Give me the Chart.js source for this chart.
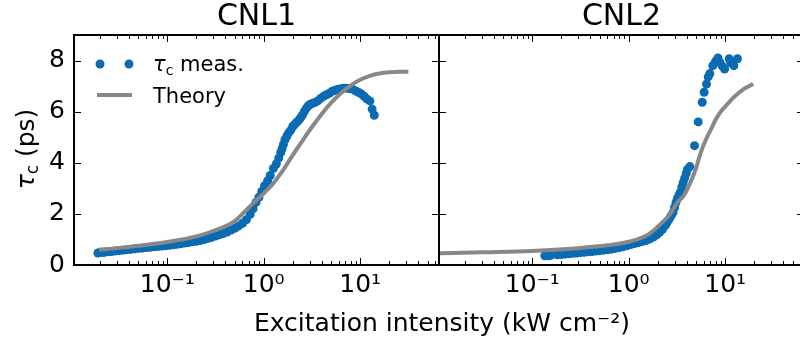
<!DOCTYPE html>
<html><head><meta charset="utf-8">
<script src="https://cdn.jsdelivr.net/npm/chart.js@4.4.0/dist/chart.umd.min.js"></script>
<style>
html,body{margin:0;padding:0;background:#fff;overflow:hidden;width:800px;height:343px;position:relative;}
canvas{position:absolute;top:0;}
#c1{left:0;}
#c2{left:400px;}
</style></head><body>
<canvas id="c1" width="800" height="343"></canvas>
<canvas id="c2" width="420" height="343"></canvas>
<script>
// ---------- data ----------
const panelTitles = ['CNL1', 'CNL2'];
const xMajorTicks = [0.1, 1, 10];
const xTickLabels = ['10⁻¹', '10⁰', '10¹'];
const yTicks = [0, 2, 4, 6, 8];
const xLabel = 'Excitation intensity (kW cm⁻²)';

// CNL1 measured tau_c (ps) vs intensity (kW/cm2)
const cnl1MeasX = [0.0191,0.0204,0.0219,0.0240,0.0263,0.0288,0.0316,0.0347,0.0380,0.0417,0.0457,0.0501,0.0550,0.0603,0.0661,0.0724,0.0794,0.0871,0.0955,0.105,0.115,0.126,0.138,0.151,0.166,0.182,0.200,0.219,0.240,0.263,0.288,0.316,0.347,0.380,0.417,0.457,0.501,0.550,0.603,0.661,0.724,0.776,0.832,0.891,0.955,1.02,1.10,1.17,1.26,1.35,1.43,1.50,1.55,1.60,1.66,1.74,1.82,1.91,2.00,2.09,2.19,2.29,2.40,2.51,2.63,2.75,2.88,3.02,3.16,3.39,3.63,3.89,4.17,4.47,4.79,5.13,5.50,5.89,6.31,6.76,7.24,7.76,8.32,8.91,9.55,10.2,11.0,11.7,12.6,13.3,14.0];
const cnl1MeasY = [0.47,0.50,0.49,0.52,0.53,0.55,0.56,0.58,0.60,0.61,0.63,0.65,0.66,0.68,0.69,0.71,0.72,0.74,0.75,0.77,0.79,0.81,0.83,0.86,0.88,0.91,0.93,0.96,1.00,1.04,1.08,1.13,1.18,1.23,1.29,1.37,1.44,1.53,1.63,1.77,1.98,2.20,2.45,2.65,2.88,3.10,3.30,3.50,3.78,3.95,4.18,4.40,4.55,4.72,4.90,5.05,5.18,5.28,5.42,5.50,5.58,5.65,5.75,5.85,6.00,6.12,6.22,6.28,6.32,6.36,6.42,6.52,6.60,6.66,6.72,6.80,6.84,6.88,6.90,6.92,6.92,6.90,6.88,6.82,6.76,6.70,6.60,6.50,6.42,6.10,5.86];
// CNL1 theory
const cnl1TheoX = [0.0197,0.03,0.05,0.1,0.2,0.3,0.5,0.631,0.794,1.0,1.26,1.58,2.0,2.51,3.16,3.98,5.01,6.31,7.94,10.0,12.6,15.8,20.0,25.1,31.6];
const cnl1TheoY = [0.60,0.66,0.75,0.90,1.12,1.33,1.72,2.08,2.45,2.80,3.20,3.70,4.30,4.85,5.40,5.90,6.35,6.72,7.02,7.25,7.40,7.49,7.54,7.56,7.56];

// CNL2 measured
const cnl2MeasX = [0.135,0.141,0.148,0.155,0.182,0.200,0.219,0.240,0.263,0.288,0.316,0.347,0.380,0.417,0.457,0.501,0.550,0.603,0.661,0.724,0.794,0.871,0.955,1.05,1.15,1.26,1.38,1.51,1.66,1.82,1.95,2.09,2.24,2.40,2.51,2.63,2.75,2.88,2.99,3.09,3.20,3.31,3.43,3.55,3.67,3.80,3.94,4.07,4.30,4.81,5.25,5.78,6.05,6.40,6.67,6.93,7.45,7.94,8.41,8.83,9.33,9.86,11.0,11.4,12.3,13.4];
const cnl2MeasY = [0.36,0.40,0.36,0.38,0.40,0.41,0.43,0.44,0.46,0.47,0.49,0.50,0.52,0.53,0.55,0.56,0.58,0.60,0.62,0.65,0.68,0.71,0.75,0.80,0.84,0.88,0.92,0.96,1.02,1.10,1.18,1.28,1.40,1.55,1.68,1.80,1.92,2.05,2.25,2.45,2.60,2.72,2.85,3.05,3.22,3.40,3.58,3.75,3.85,4.67,5.60,6.37,6.76,7.08,7.36,7.49,7.80,7.97,8.10,7.93,7.78,7.67,8.07,7.91,7.80,8.07];
// CNL2 theory
const cnl2TheoX = [0.0108,0.03,0.1,0.3,0.6,1.0,1.6,2.2,2.7,3.2,3.7,4.5,5.0,5.6,6.3,7.1,8.0,9.0,10.0,12.6,15.8,19.5];
const cnl2TheoY = [0.46,0.50,0.55,0.66,0.77,0.91,1.20,1.65,2.00,2.45,2.70,3.35,3.80,4.42,4.90,5.30,5.70,6.00,6.20,6.60,6.90,7.08];

// ---------- styling ----------
const BLUE = '#0a6bb3';
const GRAY = '#888888';
const FONT = 'DejaVu Sans';
const X_MIN = 0.0108, X_MAX = 65.6;
Chart.defaults.font.family = FONT;
Chart.defaults.color = '#000';

function pts(xs, ys){ return xs.map((x,i)=>({x:x, y:ys[i]})); }

// all tick positions on the log axis (majors + 2..9 minors per decade)
const allXTicks = [];
for (let e = -2; e <= 1; e++) {
  for (let m = 1; m <= 9; m++) {
    const v = m * Math.pow(10, e);
    if (v >= X_MIN && v <= X_MAX) allXTicks.push(+v.toPrecision(3));
  }
}
function isMajor(v){ return xMajorTicks.some(m => Math.abs(m - v) / m < 1e-6); }

const framePlugin = {
  id: 'frame',
  afterDraw(chart, args, o) {
    const {ctx, chartArea: a, scales: {x, y}} = chart;
    ctx.save();
    ctx.strokeStyle = '#000';
    ctx.lineWidth = 1;
    ctx.beginPath();
    allXTicks.forEach(v => {
      const px = Math.round(x.getPixelForValue(v)) + 0.5;
      const L = isMajor(v) ? 7 : 4;
      ctx.moveTo(px, a.bottom); ctx.lineTo(px, a.bottom - L);
      ctx.moveTo(px, a.top); ctx.lineTo(px, a.top + L);
    });
    yTicks.forEach(v => {
      const py = Math.round(y.getPixelForValue(v)) + 0.5;
      ctx.moveTo(a.left, py); ctx.lineTo(a.left + 7, py);
      ctx.moveTo(a.right, py); ctx.lineTo(a.right - 7, py);
    });
    ctx.stroke();
    ctx.lineWidth = 2;
    ctx.strokeRect(a.left, a.top, a.right - a.left, a.bottom - a.top);
    // panel title
    ctx.fillStyle = '#000';
    ctx.textAlign = 'center';
    ctx.textBaseline = 'alphabetic';
    ctx.font = '30px ' + FONT;
    ctx.fillText(o.title, (a.left + a.right) / 2, 25);
    if (o.first) {
      // x label
      ctx.font = '25px ' + FONT;
      ctx.fillText(xLabel, 442, 331);
      // y label (rotated) tau_c (ps)
      ctx.save();
      ctx.translate(25, 149);
      ctx.rotate(-Math.PI / 2);
      ctx.textAlign = 'left';
      ctx.textBaseline = 'alphabetic';
      const f1 = 'italic 25px ' + FONT, f2 = '17px ' + FONT, f3 = '25px ' + FONT;
      ctx.font = f1; const w1 = ctx.measureText('τ').width;
      ctx.font = f2; const w2 = ctx.measureText('c').width;
      ctx.font = f3; const w3 = ctx.measureText(' (ps)').width;
      let sx = -(w1 + w2 + w3) / 2;
      const by = 9;
      ctx.font = f1; ctx.fillText('τ', sx, by); sx += w1;
      ctx.font = f2; ctx.fillText('c', sx, by + 4); sx += w2;
      ctx.font = f3; ctx.fillText(' (ps)', sx, by);
      ctx.restore();
      // legend
      ctx.fillStyle = BLUE;
      [100, 129].forEach(cx => { ctx.beginPath(); ctx.arc(cx, 64, 4.5, 0, Math.PI * 2); ctx.fill(); });
      ctx.strokeStyle = GRAY; ctx.lineWidth = 4;
      ctx.beginPath(); ctx.moveTo(97, 95); ctx.lineTo(132, 95); ctx.stroke();
      ctx.fillStyle = '#000';
      ctx.textAlign = 'left'; ctx.textBaseline = 'alphabetic';
      let lx = 153; const ly = 71;
      ctx.font = 'italic 21px ' + FONT; ctx.fillText('τ', lx, ly); lx += ctx.measureText('τ').width;
      ctx.font = '14px ' + FONT; ctx.fillText('c', lx, ly + 4); lx += ctx.measureText('c').width;
      ctx.font = '21px ' + FONT; ctx.fillText(' meas.', lx, ly);
      ctx.fillText('Theory', 153, 103);
    }
    ctx.restore();
  }
};

function makeChart(id, meas, theo, opts) {
  return new Chart(document.getElementById(id), {
    type: 'scatter',
    data: {
      datasets: [
        { type: 'line', data: theo, borderColor: GRAY, borderWidth: 4, pointRadius: 0,
          cubicInterpolationMode: 'monotone', fill: false, order: 0 },
        { type: 'scatter', data: meas, backgroundColor: BLUE, borderWidth: 0,
          pointRadius: 4.5, pointHoverRadius: 4.5, order: 1 }
      ]
    },
    options: {
      responsive: false, animation: false, events: [],
      layout: { padding: opts.padding },
      plugins: { legend: { display: false }, tooltip: { enabled: false },
                 frame: { title: opts.title, first: opts.first } },
      scales: {
        x: {
          type: 'logarithmic', min: X_MIN, max: X_MAX,
          afterBuildTicks: s => { s.ticks = allXTicks.map(v => ({ value: v })); },
          afterFit: s => { s.height = 78; },
          grid: { display: false, drawTicks: false },
          border: { display: false },
          ticks: {
            autoSkip: false, maxRotation: 0, padding: 5,
            font: { size: 25 }, color: '#000',
            callback: (v) => { const i = xMajorTicks.findIndex(m => Math.abs(m - v) / m < 1e-6); return i >= 0 ? xTickLabels[i] : ''; }
          }
        },
        y: {
          type: 'linear', min: 0, max: 9,
          afterBuildTicks: s => { s.ticks = yTicks.map(v => ({ value: v })); },
          afterFit: s => { s.width = opts.yWidth; },
          grid: { display: false, drawTicks: false },
          border: { display: false },
          ticks: { display: opts.first, padding: 9, font: { size: 25 }, color: '#000' }
        }
      }
    },
    plugins: [framePlugin]
  });
}

makeChart('c1', pts(cnl1MeasX, cnl1MeasY), pts(cnl1TheoX, cnl1TheoY),
  { title: panelTitles[0], first: true, yWidth: 74, padding: { left: 0, top: 35, right: 361, bottom: 0 } });
makeChart('c2', pts(cnl2MeasX, cnl2MeasY), pts(cnl2TheoX, cnl2TheoY),
  { title: panelTitles[1], first: false, yWidth: 39, padding: { left: 0, top: 35, right: 16, bottom: 0 } });
</script>
</body></html>
